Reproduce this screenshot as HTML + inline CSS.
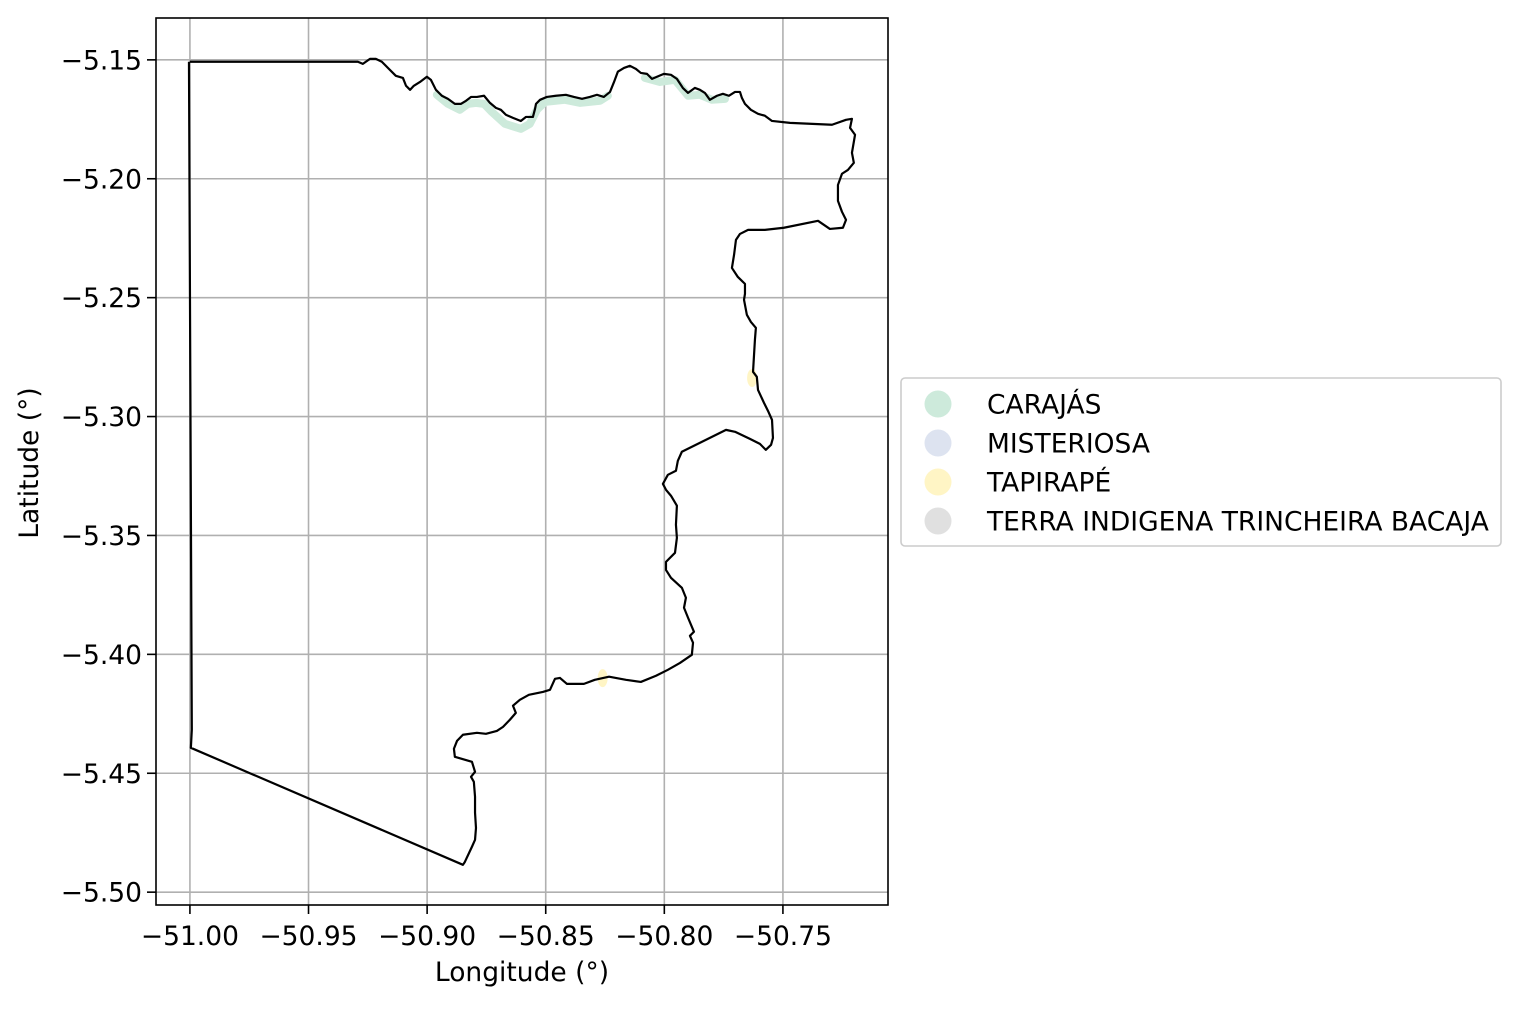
<!DOCTYPE html>
<html><head><meta charset="utf-8"><style>
html,body{margin:0;padding:0;background:#fff;}
svg text{font-family:"DejaVu Sans","Liberation Sans",sans-serif;fill:#000;}
</style></head><body>
<svg id="chart" width="1521" height="1006" xmlns="http://www.w3.org/2000/svg">
<g id="grid"></g>
<g id="patches"></g>
<g id="outline"></g>
<rect x="156" y="18" width="732" height="887" fill="none" stroke="#000" stroke-width="1.6"/>
<g id="xticks"></g>
<g id="yticks"></g>
<text x="522" y="981" font-size="26.5" text-anchor="middle">Longitude (°)</text>
<text transform="translate(38,463) rotate(-90)" font-size="26.5" text-anchor="middle">Latitude (°)</text>
<g>
<rect x="901" y="378" width="600" height="168" rx="4" fill="#fff" stroke="#ccc" stroke-width="1.6"/>
<g id="legend"></g>
</g>
</svg>
<script>
const xTicks=[-51.00,-50.95,-50.90,-50.85,-50.80,-50.75];
const yTicks=[-5.15,-5.20,-5.25,-5.30,-5.35,-5.40,-5.45,-5.50];
const legendLabels=["CARAJÁS","MISTERIOSA","TAPIRAPÉ","TERRA INDIGENA TRINCHEIRA BACAJA"];
const legendColors=["#cdeadb","#dde3f0","#fff5c5","#e0e0e0"];
const outlineLon=[-51.000,-50.9292,-50.9271,-50.9241,-50.9216,-50.9191,-50.9157,-50.9132,-50.9102,-50.9089,-50.9072,-50.9056,-50.9030,-50.9001,-50.8984,-50.8963,-50.8938,-50.8912,-50.8883,-50.8857,-50.8836,-50.8815,-50.8790,-50.8760,-50.8735,-50.8710,-50.8689,-50.8668,-50.8638,-50.8605,-50.8583,-50.8554,-50.8545,-50.8541,-50.8524,-50.8495,-50.8457,-50.8415,-50.8381,-50.8347,-50.8314,-50.8284,-50.8255,-50.8229,-50.8212,-50.8196,-50.8170,-50.8145,-50.8120,-50.8099,-50.8073,-50.8052,-50.8031,-50.8002,-50.7972,-50.7947,-50.7922,-50.7900,-50.7871,-50.7850,-50.7829,-50.7808,-50.7778,-50.7753,-50.7728,-50.7702,-50.7681,-50.7673,-50.7660,-50.7635,-50.7605,-50.7576,-50.7546,-50.7470,-50.7293,-50.7234,-50.7209,-50.7217,-50.7196,-50.7209,-50.7201,-50.7226,-50.7251,-50.7268,-50.7268,-50.7251,-50.7234,-50.7247,-50.7302,-50.7352,-50.7496,-50.7576,-50.7647,-50.7681,-50.7698,-50.7706,-50.7715,-50.7690,-50.7660,-50.7660,-50.7664,-50.7652,-50.7635,-50.7614,-50.7618,-50.7626,-50.7610,-50.7605,-50.7580,-50.7563,-50.7546,-50.7542,-50.7550,-50.7572,-50.7597,-50.7639,-50.7702,-50.7740,-50.7926,-50.7943,-50.7951,-50.7985,-50.8006,-50.7993,-50.7972,-50.7947,-50.7951,-50.7947,-50.7955,-50.7993,-50.7993,-50.7972,-50.7926,-50.7909,-50.7917,-50.7900,-50.7875,-50.7892,-50.7879,-50.7884,-50.7934,-50.7985,-50.8035,-50.8099,-50.8162,-50.8233,-50.8293,-50.8339,-50.8411,-50.8440,-50.8461,-50.8482,-50.8512,-50.8571,-50.8609,-50.8638,-50.8626,-50.8651,-50.8680,-50.8706,-50.8752,-50.8790,-50.8849,-50.8874,-50.8887,-50.8883,-50.8811,-50.8798,-50.8815,-50.8803,-50.8798,-50.8798,-50.8794,-50.8798,-50.8811,-50.8841,-50.8849,-50.9996,-50.9992,-51.0004];
const outlineLat=[-5.1508,-5.1508,-5.1517,-5.1496,-5.1496,-5.1508,-5.1542,-5.1567,-5.1576,-5.1609,-5.1626,-5.1609,-5.1593,-5.1571,-5.1584,-5.1626,-5.1651,-5.1664,-5.1685,-5.1685,-5.1672,-5.1656,-5.1656,-5.1651,-5.1681,-5.1702,-5.1710,-5.1731,-5.1744,-5.1757,-5.1740,-5.1740,-5.1706,-5.1685,-5.1668,-5.1656,-5.1651,-5.1647,-5.1656,-5.1664,-5.1656,-5.1647,-5.1656,-5.1635,-5.1593,-5.1550,-5.1534,-5.1525,-5.1538,-5.1555,-5.1559,-5.1580,-5.1571,-5.1559,-5.1563,-5.1580,-5.1618,-5.1639,-5.1618,-5.1626,-5.1639,-5.1668,-5.1651,-5.1643,-5.1651,-5.1635,-5.1635,-5.1660,-5.1685,-5.1710,-5.1727,-5.1735,-5.1757,-5.1765,-5.1773,-5.1752,-5.1748,-5.1786,-5.1815,-5.1891,-5.1933,-5.1963,-5.1979,-5.2026,-5.2093,-5.2139,-5.2173,-5.2206,-5.2211,-5.2177,-5.2206,-5.2215,-5.2215,-5.2232,-5.2257,-5.2320,-5.2375,-5.2413,-5.2442,-5.2484,-5.2509,-5.2572,-5.2602,-5.2627,-5.2677,-5.2812,-5.2833,-5.2888,-5.2942,-5.2976,-5.3014,-5.3090,-5.3119,-5.3140,-5.3115,-5.3094,-5.3064,-5.3056,-5.3148,-5.3186,-5.3228,-5.3245,-5.3283,-5.3308,-5.3333,-5.3375,-5.3455,-5.3510,-5.3573,-5.3611,-5.3645,-5.3678,-5.3720,-5.3762,-5.3804,-5.3846,-5.3905,-5.3922,-5.3951,-5.4002,-5.4036,-5.4065,-5.4090,-5.4116,-5.4107,-5.4094,-5.4107,-5.4124,-5.4124,-5.4099,-5.4103,-5.4149,-5.4158,-5.4170,-5.4191,-5.4216,-5.4246,-5.4275,-5.4305,-5.4322,-5.4334,-5.4330,-5.4338,-5.4364,-5.4397,-5.4431,-5.4452,-5.4494,-5.4515,-5.4536,-5.4599,-5.4666,-5.4730,-5.4780,-5.4809,-5.4873,-5.4885,-5.4393,-5.4317,-5.1508];
const carajas1Lon=[-50.8959,-50.8912,-50.8862,-50.8828,-50.8794,-50.8760,-50.8727,-50.8672,-50.8605,-50.8567,-50.8537,-50.8503,-50.8419,-50.8356,-50.8271,-50.8238];
const carajas1Lat=[-5.1647,-5.1685,-5.1710,-5.1685,-5.1681,-5.1685,-5.1719,-5.1769,-5.1790,-5.1769,-5.1710,-5.1677,-5.1668,-5.1681,-5.1672,-5.1651];
const carajas2Lon=[-50.8082,-50.8018,-50.7955,-50.7900,-50.7850,-50.7799,-50.7744];
const carajas2Lat=[-5.1576,-5.1593,-5.1584,-5.1651,-5.1647,-5.1668,-5.1664];
const tapirapeLon=[-50.7630,-50.8260];
const tapirapeLat=[-5.2838,-5.4100];

const NS="http://www.w3.org/2000/svg";
const X0=156,X1=888,Y0=18,Y1=905;
const lonMin=-51.0143,lonMax=-50.7057,latMax=-5.1324,latMin=-5.5054;
function sx(v){return X0+(v-lonMin)/(lonMax-lonMin)*(X1-X0);}
function sy(v){return Y0+(latMax-v)/(latMax-latMin)*(Y1-Y0);}
function mk(tag,attrs,parent){const e=document.createElementNS(NS,tag);for(const k in attrs)e.setAttribute(k,attrs[k]);parent.appendChild(e);return e;}
const fmt=v=>v.toFixed(2).replace('-','\u2212');
const grid=document.getElementById('grid'),xt=document.getElementById('xticks'),yt=document.getElementById('yticks');
xTicks.forEach(v=>{const x=sx(v);
 const g=mk('line',{x1:x,x2:x,y1:Y0,y2:Y1,stroke:'#b0b0b0','stroke-width':1.6},grid);
 
 
 const t=mk('line',{x1:x,x2:x,y1:Y1,y2:Y1+9,stroke:'#000','stroke-width':1.6},xt);
 
 
 const l=mk('text',{x:x,y:945,'font-size':26.5,'text-anchor':'middle'},xt);l.textContent=fmt(v);
 
 
});
yTicks.forEach(v=>{const y=sy(v);
 const g=mk('line',{x1:X0,x2:X1,y1:y,y2:y,stroke:'#b0b0b0','stroke-width':1.6},grid);
 
 
 const t=mk('line',{x1:X0-9,x2:X0,y1:y,y2:y,stroke:'#000','stroke-width':1.6},yt);
 
 
 const l=mk('text',{x:142,y:y+9.5,'font-size':26.5,'text-anchor':'end'},yt);l.textContent=fmt(v);
 
 
});
const patches=document.getElementById('patches');
function pts(lo,la){return lo.map((v,i)=>sx(v)+','+sy(la[i])).join(' ');}
[[carajas1Lon,carajas1Lat],[carajas2Lon,carajas2Lat]].forEach(([lo,la])=>{
 const p=mk('polyline',{points:pts(lo,la),fill:'none',stroke:'#cdeadb','stroke-width':8,'stroke-linejoin':'round','stroke-linecap':'round'},patches);
 
 
});
tapirapeLon.forEach((v,i)=>{
 const c=mk('ellipse',{cx:sx(v),cy:sy(tapirapeLat[i]),rx:5,ry:9,fill:'#fff5c5'},patches);
 
 
});
const ol=mk('polyline',{points:pts(outlineLon,outlineLat),fill:'none',stroke:'#000','stroke-width':2.2,'stroke-linejoin':'round'},document.getElementById('outline'));


const lg=document.getElementById('legend');
legendLabels.forEach((s,i)=>{const y=404+i*39;
 const c=mk('circle',{cx:938,cy:y,r:13.5,fill:legendColors[i]},lg);
 
 
 const t=mk('text',{x:987,y:y+9.5,'font-size':26.5},lg);t.textContent=s;
 
 
});
</script>
</body></html>
